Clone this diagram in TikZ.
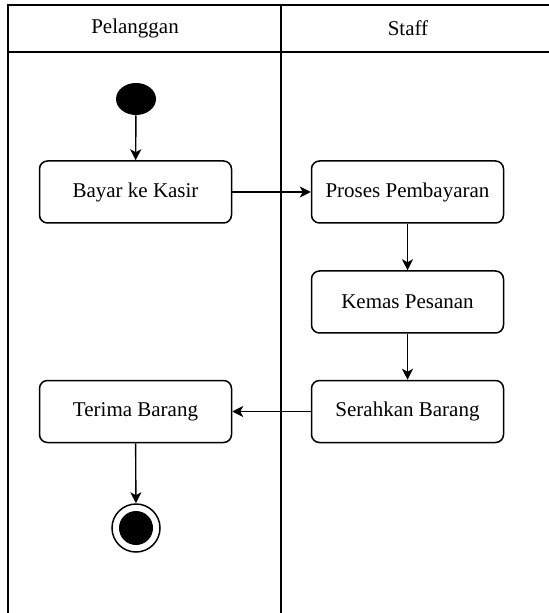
\documentclass[tikz,border=0pt]{standalone}
\usepackage{fontspec}
\setmainfont{LiberationSerif}[Extension=.ttf, UprightFont=*-Regular, BoldFont=*-Bold]
\usetikzlibrary{arrows.meta,shapes.geometric}
\begin{document}
\begin{tikzpicture}[x=0.5pt, y=-0.5pt,
  every node/.style={font=\fontsize{10.5}{12}\selectfont},
  act/.style={draw, line width=0.75pt, rounded corners=4pt, minimum width=96pt, minimum height=31pt, fill=white},
  flow/.style={-{Stealth[length=5.5pt, width=5.5pt, inset=1.5pt]}, line width=0.7pt}]
\useasboundingbox (0,0) rectangle (549,613);
\draw[line width=1pt] (549,5) -- (8,5) -- (8,613);
\draw[line width=1pt] (8,52) -- (549,52);
\draw[line width=1pt] (281,5) -- (281,613);
\node[] (pelanggan) at (135,28) {Pelanggan};
\node[] (staff) at (408,28) {Staff};
\node[ellipse, fill=black, minimum width=20pt, minimum height=16pt, inner sep=0pt] (start) at (136,99) {};
\node[act] (bayar) at (135.5,192) {Bayar ke Kasir};
\node[act] (proses) at (407.5,192) {Proses Pembayaran};
\node[act] (kemas) at (407.5,302) {Kemas Pesanan};
\node[act] (serahkan) at (407.5,411.5) {Serahkan Barang};
\node[act] (terima) at (135.5,411.5) {Terima Barang};
\node[circle, draw, line width=0.75pt, minimum size=24pt, inner sep=0pt] (finish) at (136,528) {};
\fill (finish.center) circle [radius=8.5pt];
\draw[flow] (start) -- (bayar);
\draw[flow] (bayar) -- (proses);
\draw[flow] (proses) -- (kemas);
\draw[flow] (kemas) -- (serahkan);
\draw[flow] (serahkan) -- (terima);
\draw[flow] (terima) -- (finish);
\end{tikzpicture}
\end{document}
